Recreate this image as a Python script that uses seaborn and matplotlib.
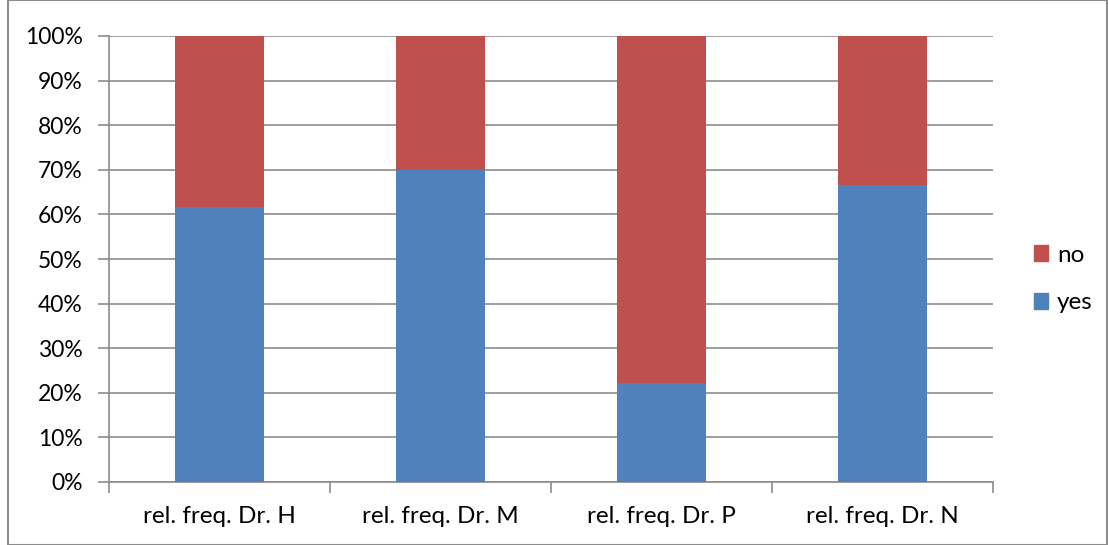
import numpy as np
import pandas as pd
import matplotlib
matplotlib.use("Agg")
import matplotlib.pyplot as plt
import seaborn as sns
from matplotlib.patches import Patch, Rectangle
from matplotlib.ticker import PercentFormatter

categories = ["rel. freq. Dr. H", "rel. freq. Dr. M", "rel. freq. Dr. P", "rel. freq. Dr. N"]
yes_pct = [61.6, 70.0, 22.3, 66.7]
no_pct = [38.4, 30.0, 77.7, 33.3]

blue = "#4F81BD"
red = "#C0504D"
grid_grey = "#8C8C8C"

sns.set_theme(style="white")
plt.rcParams["font.family"] = ["Lato", "DejaVu Sans"]

df = pd.DataFrame({"cat": categories, "yes": yes_pct, "no": no_pct})
df["total"] = df["yes"] + df["no"]

fig = plt.figure(figsize=(11.08, 5.45), dpi=100)
ax = fig.add_axes([109 / 1108, 63 / 545, 884 / 1108, 446 / 545])

# stacked: full-height "no" bars behind, "yes" bars in front
sns.barplot(data=df, x="cat", y="total", color=red, width=0.4, ax=ax,
            saturation=1, linewidth=0, zorder=3)
sns.barplot(data=df, x="cat", y="yes", color=blue, width=0.4, ax=ax,
            saturation=1, linewidth=0, zorder=3)

ax.set_ylim(0, 100)
ax.set_xlim(-0.5, len(categories) - 0.5)
ax.set_yticks(np.arange(0, 101, 10))
ax.yaxis.set_major_formatter(PercentFormatter(decimals=0))
ax.set_xlabel("")
ax.set_ylabel("")

ax.grid(axis="y", color=grid_grey, linewidth=1.2, zorder=0)
ax.set_axisbelow(True)
for s in ["top", "right"]:
    ax.spines[s].set_visible(False)
for s in ["left", "bottom"]:
    ax.spines[s].set_color(grid_grey)
    ax.spines[s].set_linewidth(1.2)

ax.tick_params(axis="y", length=8, width=1.2, color=grid_grey, direction="out",
               labelsize=16.5, pad=11, left=True, labelcolor="black")
ax.tick_params(axis="x", length=0, labelsize=17.5, pad=17, labelcolor="black")
ax.set_xticks(np.arange(-0.5, len(categories), 1.0), minor=True)
ax.tick_params(axis="x", which="minor", length=8, width=1.2, color=grid_grey,
               direction="out", bottom=True)

handles = [Patch(color=red, label="no"), Patch(color=blue, label="yes")]
fig.legend(handles=handles, loc="center left", bbox_to_anchor=(1012 / 1108, 0.488),
           frameon=False, fontsize=17.5, handlelength=0.6, handleheight=0.6,
           labelspacing=1.1, handletextpad=0.35, labelcolor="black")

fig.patches.append(Rectangle((8 / 1108, 0), 1099 / 1108, 1, transform=fig.transFigure,
                             fill=False, edgecolor=grid_grey, linewidth=1.5))

fig.savefig("out.png", dpi=100)
